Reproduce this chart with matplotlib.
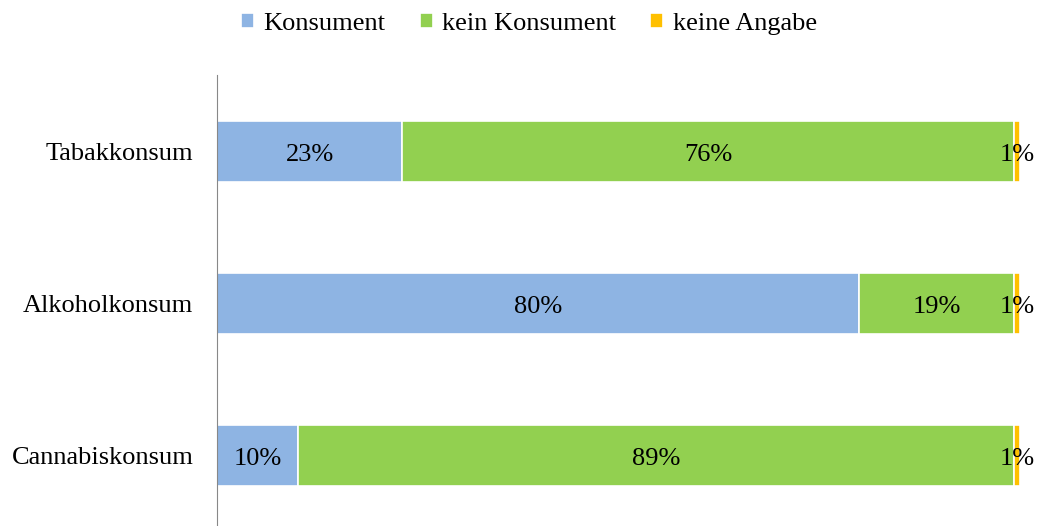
import matplotlib.pyplot as plt

plt.rcParams['font.family'] = ['Liberation Serif', 'DejaVu Serif']

# 데이터 (Prozent)
categories = ['Tabakkonsum', 'Alkoholkonsum', 'Cannabiskonsum']
konsument = [23.1, 80.0, 10.1]
kein_konsument = [76.2, 19.3, 89.2]
keine_angabe = [0.7, 0.7, 0.7]
series_names = ['Konsument', 'kein Konsument', 'keine Angabe']
colors = ['#8EB4E3', '#92D050', '#FFC000']

fig = plt.figure(figsize=(10.43, 5.26), dpi=100)
ax = fig.add_axes([0.208, -0.01, 0.770, 0.867])

y = range(len(categories))
left = [0] * len(categories)
for name, vals, col in zip(series_names, [konsument, kein_konsument, keine_angabe], colors):
    bars = ax.barh(y, vals, left=left, height=0.4, color=col, edgecolor='white',
                   linewidth=1.2, label=name)
    for b, v in zip(bars, vals):
        ax.text(b.get_x() + b.get_width() / 2, b.get_y() + b.get_height() / 2 + 0.025,
                f'{int(v + 0.5)}%', ha='center', va='center', fontsize=19, color='black')
    left = [l + v for l, v in zip(left, vals)]

ax.set_yticks(list(y))
ax.set_yticklabels(categories, fontsize=19)
ax.set_ylim(2.5, -0.5)
ax.set_xlim(0, 100)
ax.set_xticks([])
ax.tick_params(axis='y', length=0, pad=17)
for s in ['top', 'right', 'bottom']:
    ax.spines[s].set_visible(False)
ax.spines['left'].set_color('#888888')

fig.legend(loc='center', bbox_to_anchor=(0.507, 0.955), ncol=3, frameon=False,
           fontsize=19, handlelength=0.5, handleheight=0.5, handletextpad=0.35,
           columnspacing=1.3)

fig.savefig('out.png', dpi=100)
